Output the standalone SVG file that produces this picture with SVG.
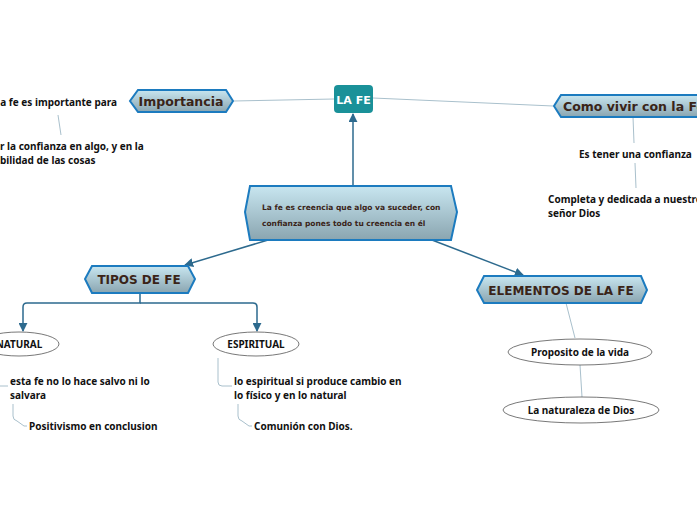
<svg xmlns="http://www.w3.org/2000/svg" width="697" height="520" viewBox="0 0 697 520">
<defs>
<linearGradient id="g" x1="0" y1="0" x2="0" y2="1"><stop offset="0" stop-color="#c8e6f0"/><stop offset="1" stop-color="#8aa5b0"/></linearGradient>
<marker id="a" viewBox="0 0 10 10" refX="9" refY="5" markerWidth="6" markerHeight="6" orient="auto"><path d="M0,0L10,5L0,10z" fill="#2d6a8e"/></marker>
</defs>
<style>
.h{fill:url(#g);stroke:#1c7bbf;stroke-width:2}
.e{fill:#fff;stroke:#555;stroke-width:0.8}
.t{font-family:"Noto Sans",sans-serif;font-weight:bold;fill:#111;font-size:10px}
.ht{font-family:"DejaVu Sans",sans-serif;font-weight:bold;fill:#3a2418}
.c{fill:none;stroke:#2d6a8e;stroke-width:1.5}
.l{fill:none;stroke:#a9c0cc;stroke-width:1}
</style>
<rect width="697" height="520" fill="#fff"/>
<g id="connectors">
<path class="l" d="M234,101L334,99"/>
<path class="l" d="M373,98L553,106"/>
<path class="c" d="M353,186L353,114" marker-end="url(#a)"/>
<path class="c" d="M268,240L185,265" marker-end="url(#a)"/>
<path class="c" d="M432,240L523,275" marker-end="url(#a)"/>
<path class="c" d="M140,293V303H27Q23,303 23,307V331" marker-end="url(#a)"/>
<path class="c" d="M140,303H253Q257,303 257,307V331" marker-end="url(#a)"/>
<path class="l" d="M58,115L61,135"/>
<path class="l" d="M633,117L634,143"/>
<path class="l" d="M635,163L636,188"/>
<path class="l" d="M566,303L575,338"/>
<path class="l" d="M580,365L582,397"/>
<path class="l" d="M0,386H8"/>
<path class="l" d="M13,404V416Q13,420 17,421L24,426H27"/>
<path class="l" d="M218,358V382Q218,386 222,386H232"/>
<path class="l" d="M238,404V416Q238,420 242,421L249,426H252"/>
</g>
<g id="lafe"><rect x="334" y="85" width="39" height="28" rx="4" fill="#1a9199"/><text x="353.5" y="104" text-anchor="middle" font-family="DejaVu Sans,sans-serif" font-weight="bold" font-size="11" fill="#fff">LA FE</text></g>
<g id="central"><path class="h" d="M250,186H451L457,212L451,240H250L245,212Z"/>
<text class="ht" x="262" y="210" font-size="7.5">La fe es creencia que algo va suceder, con</text>
<text class="ht" x="262" y="226" font-size="7.5">confianza pones todo tu creencia en él</text></g>
<g id="importancia"><path class="h" d="M138,90H226L233,101L226,112H138L130,101Z"/><text class="ht" x="181" y="106" font-size="12.5" text-anchor="middle">Importancia</text></g>
<g id="imp1"><text class="t" x="117" y="106" text-anchor="end">a fe es importante para</text></g>
<g id="imp2"><text class="t" x="0" y="150">r la confianza en algo, y en la</text><text class="t" x="0" y="164">bilidad de las cosas</text></g>
<g id="comovivir"><path class="h" d="M561,95H700V117H561L554,106Z"/><text class="ht" x="563" y="111" font-size="12.5">Como vivir con la Fe</text></g>
<g id="cv1"><text class="t" x="579" y="158">Es tener una confianza</text></g>
<g id="cv2"><text class="t" x="548" y="203">Completa y dedicada a nuestro</text><text class="t" x="548" y="217">señor Dios</text></g>
<g id="tipos"><path class="h" d="M92,266H188L195,279L188,293H92L85,279Z"/><text class="ht" x="139" y="284" font-size="12" text-anchor="middle">TIPOS DE FE</text></g>
<g id="elementos"><path class="h" d="M484,276H641L647,290L641,303H484L477,290Z"/><text class="ht" x="561" y="295" font-size="12" text-anchor="middle">ELEMENTOS DE LA FE</text></g>
<g id="natural"><ellipse class="e" cx="19" cy="344" rx="40" ry="12"/><text class="t" x="19" y="348" text-anchor="middle" font-size="9">NATURAL</text></g>
<g id="espiritual"><ellipse class="e" cx="256" cy="344" rx="43" ry="12"/><text class="t" x="256" y="348" text-anchor="middle" font-size="9">ESPIRITUAL</text></g>
<g id="nat1"><text class="t" x="10" y="385">esta fe no lo hace salvo ni lo</text><text class="t" x="10" y="399">salvara</text></g>
<g id="nat2"><text class="t" x="29" y="430">Positivismo en conclusion</text></g>
<g id="esp1"><text class="t" x="234" y="385">lo espiritual si produce cambio en</text><text class="t" x="234" y="399">lo físico y en lo natural</text></g>
<g id="esp2"><text class="t" x="254" y="430">Comunión con Dios.</text></g>
<g id="proposito"><ellipse class="e" cx="580" cy="352" rx="72" ry="13"/><text class="t" x="580" y="356" text-anchor="middle">Proposito de la vida</text></g>
<g id="naturaleza"><ellipse class="e" cx="581" cy="410" rx="78" ry="13"/><text class="t" x="581" y="414" text-anchor="middle">La naturaleza de Dios</text></g>
</svg>
